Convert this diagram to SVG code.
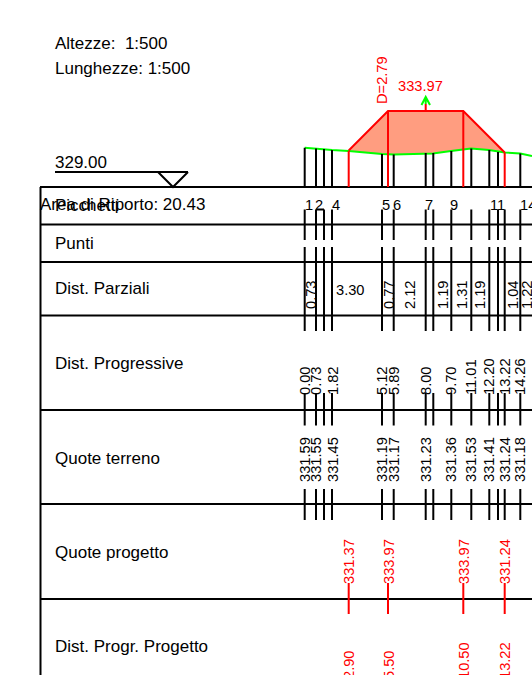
<svg xmlns="http://www.w3.org/2000/svg" width="532" height="675" viewBox="0 0 532 675">
<style>
text{font-family:"Liberation Sans",Arial,sans-serif;font-size:17px;fill:#000;white-space:pre}
.s{font-size:14.67px}
.r{fill:#f00;font-size:14.67px}
.k{stroke:#000;stroke-width:2;fill:none}
.t{stroke:#000;stroke-width:2;fill:none}
.rt{stroke:#f00;stroke-width:2;fill:none}
</style>
<g id="scale">
<text x="55" y="49">Altezze:  1:500</text>
<text x="55" y="74">Lunghezze: 1:500</text>
</g>
<g id="datum">
<text x="55" y="168">329.00</text>
<path class="k" d="M55 172H188M158 172L173 187L188 172"/>
</g>
<g id="profile">
<path d="M348.700 150.500L388 111H463.300L504.700 152.500L489 150L471 148.500L451 151L433 153.500L394 154.500L382 154Z" fill="#ff9d80"/>
<path d="M304.700 147.700L332 150L348.700 151L382 154L394 154.500L433 153.500L451 151L471 148.500L489 150L504.700 152.500L520.300 153.500L532 156" stroke="#0f0" stroke-width="2" fill="none"/>
<path class="rt" d="M348.700 150.500L388 111H463.300L504.700 152.500"/>
<path d="M425.700 111V104" stroke="#f00" stroke-width="2" fill="none"/>
<path d="M425.700 104V97M421.500 105L425.700 97L430 105" stroke="#0f0" stroke-width="2" fill="none"/>
<text class="r" transform="translate(387 104) rotate(-90)">D=2.79</text>
<text class="r" x="398" y="91">333.97</text>
</g>
<g id="connectors">
<path class="k" d="M40 187H532M40 224.500H532M40 262H532M40 315.500H532M40 410H532M40 504H532M40 599H532M40.500 187V675"/>
<path class="t" d="M304.700 147.700V187M316 148.500V187M324 149V187M332 150V187M382 154V187M393.700 154.500V187M425.700 153V187M433.300 153V187M451.300 151V187M471.300 148.500V187M489.300 150V187M498 152V187M520.300 153.500V187"/>
<path class="rt" d="M348.700 151V187M388 111V187M463.300 111V187M504.700 152.500V187"/>
<path class="t" d="M304.700 209.500V240M316 209.500V240M324 209.500V240M332 209.500V240M382 209.500V240M393.700 209.500V240M425.700 209.500V240M433.300 209.500V240M451.300 209.500V240M471.300 209.500V240M489.300 209.500V240M498 209.500V240M504.700 209.500V240M520.300 209.500V240M316 209.500H324"/>
<path class="t" d="M304.700 247V331M316 247V331M324 247V331M332 247V331M382 247V331M393.700 247V331M425.700 247V331M433.300 247V331M451.300 247V331M471.300 247V331M489.300 247V331M498 247V331M504.700 247V331M520.300 247V331"/>
<path class="t" d="M304.700 393V425.500M316 393V425.500M324 393V425.500M332 393V425.500M382 393V425.500M393.700 393V425.500M425.700 393V425.500M433.300 393V425.500M451.300 393V425.500M471.300 393V425.500M489.300 393V425.500M498 393V425.500M504.700 393V425.500M520.300 393V425.500"/>
<path class="t" d="M304.700 489V520M316 489V520M324 489V520M332 489V520M382 489V520M393.700 489V520M425.700 489V520M433.300 489V520M451.300 489V520M471.300 489V520M489.300 489V520M498 489V520M504.700 489V520M520.300 489V520"/>
<path class="rt" d="M348.700 583V614M388 583V614M463.300 583V614M504.700 583V614"/>
</g>
<g id="rows">
<text x="40" y="210">Area di Riporto: 20.43</text>
<text x="55" y="211">Picchetti</text>
<text x="55" y="249">Punti</text>
<text x="55" y="294">Dist. Parziali</text>
<text x="55" y="369">Dist. Progressive</text>
<text x="55" y="464">Quote terreno</text>
<text x="55" y="558">Quote progetto</text>
<text x="55" y="652">Dist. Progr. Progetto</text>
</g>
<g id="labels-picchetti">
<text class="s" x="305" y="210">1</text><text class="s" x="315" y="210">2</text><text class="s" x="332" y="210">4</text><text class="s" x="382" y="210">5</text><text class="s" x="393" y="210">6</text><text class="s" x="425" y="210">7</text><text class="s" x="450" y="210">9</text><text class="s" x="490" y="210">1</text><text class="s" x="497" y="210">1</text><text class="s" x="520" y="210">14</text>
</g>
<g id="labels-parziali">
<text class="s" transform="translate(315.500 309) rotate(-90)">0.73</text>
<text class="s" x="336" y="295">3.30</text>
<text class="s" transform="translate(393.500 309) rotate(-90)">0.77</text>
<text class="s" transform="translate(415 309) rotate(-90)">2.12</text>
<text class="s" transform="translate(447.500 309) rotate(-90)">1.19</text>
<text class="s" transform="translate(466.500 309) rotate(-90)">1.31</text>
<text class="s" transform="translate(485 309) rotate(-90)">1.19</text>
<text class="s" transform="translate(517.500 309) rotate(-90)">1.04</text>
<text class="s" transform="translate(531.500 309) rotate(-90)">1.22</text>
</g>
<g id="labels-progressive">
<text class="s" transform="translate(310 395) rotate(-90)">0.00</text>
<text class="s" transform="translate(321 395) rotate(-90)">0.73</text>
<text class="s" transform="translate(337.500 395) rotate(-90)">1.82</text>
<text class="s" transform="translate(387 395) rotate(-90)">5.12</text>
<text class="s" transform="translate(398.500 395) rotate(-90)">5.89</text>
<text class="s" transform="translate(431 395) rotate(-90)">8.00</text>
<text class="s" transform="translate(456 395) rotate(-90)">9.70</text>
<text class="s" transform="translate(476 395) rotate(-90)">11.01</text>
<text class="s" transform="translate(494 395) rotate(-90)">12.20</text>
<text class="s" transform="translate(509.500 395) rotate(-90)">13.22</text>
<text class="s" transform="translate(525 395) rotate(-90)">14.26</text>
</g>
<g id="labels-terreno">
<text class="s" transform="translate(310 482) rotate(-90)">331.59</text>
<text class="s" transform="translate(321 482) rotate(-90)">331.55</text>
<text class="s" transform="translate(337.500 482) rotate(-90)">331.45</text>
<text class="s" transform="translate(387 482) rotate(-90)">331.19</text>
<text class="s" transform="translate(398.500 482) rotate(-90)">331.17</text>
<text class="s" transform="translate(431 482) rotate(-90)">331.23</text>
<text class="s" transform="translate(456 482) rotate(-90)">331.36</text>
<text class="s" transform="translate(476 482) rotate(-90)">331.53</text>
<text class="s" transform="translate(494 482) rotate(-90)">331.41</text>
<text class="s" transform="translate(509.500 482) rotate(-90)">331.24</text>
<text class="s" transform="translate(525 482) rotate(-90)">331.18</text>
</g>
<g id="labels-progetto">
<text class="r" transform="translate(353.500 584) rotate(-90)">331.37</text>
<text class="r" transform="translate(393.500 584) rotate(-90)">333.97</text>
<text class="r" transform="translate(468.500 584) rotate(-90)">333.97</text>
<text class="r" transform="translate(510 584) rotate(-90)">331.24</text>
<text class="r" transform="translate(353.500 679) rotate(-90)">2.90</text>
<text class="r" transform="translate(393.500 679) rotate(-90)">5.50</text>
<text class="r" transform="translate(468.500 679) rotate(-90)">10.50</text>
<text class="r" transform="translate(510 679) rotate(-90)">13.22</text>
</g>
</svg>
